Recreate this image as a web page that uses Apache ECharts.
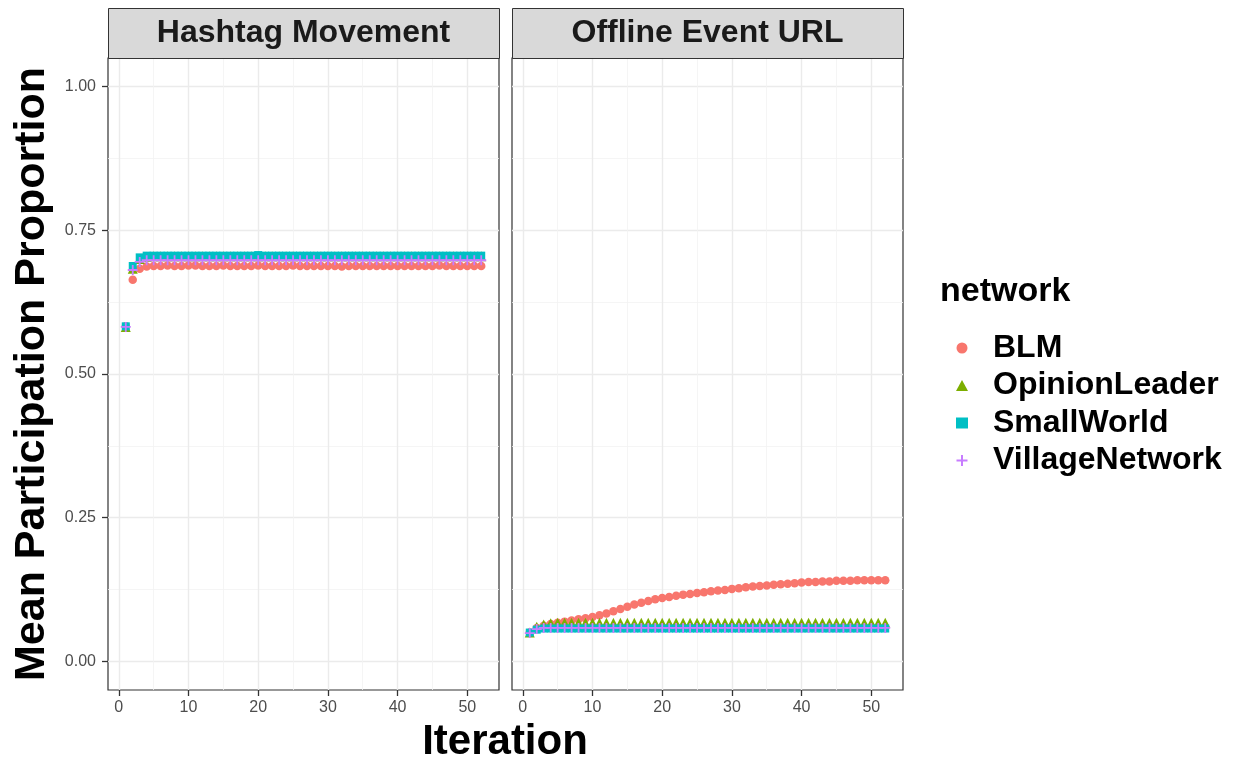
<!DOCTYPE html>
<html>
<head>
<meta charset="utf-8">
<script src="https://cdn.jsdelivr.net/npm/echarts@6/dist/echarts.min.js"></script>
<style>html,body{margin:0;padding:0;background:#fff;}#chart{width:1239px;height:761px;}</style>
</head>
<body>
<div id="chart"></div>
<script>
const iterations = [1,2,3,4,5,6,7,8,9,10,11,12,13,14,15,16,17,18,19,20,21,22,23,24,25,26,27,28,29,30,31,32,33,34,35,36,37,38,39,40,41,42,43,44,45,46,47,48,49,50,51,52];
const networks = ['BLM','OpinionLeader','SmallWorld','VillageNetwork'];
const panels = ['Hashtag Movement','Offline Event URL'];
const xTicks = [0,10,20,30,40,50];
const xMinor = [5,15,25,35,45];
const yTicks = [0,0.25,0.5,0.75,1];
const yMinor = [0.125,0.375,0.625,0.875];

// Hashtag Movement
const hashBLM = [0.583,0.664,0.683,0.687,0.688,0.688,0.689,0.688,0.688,0.689,0.689,0.688,0.688,0.688,0.689,0.688,0.688,0.688,0.688,0.689,0.688,0.688,0.688,0.688,0.689,0.688,0.688,0.688,0.688,0.688,0.688,0.687,0.688,0.688,0.688,0.688,0.688,0.688,0.688,0.688,0.688,0.688,0.688,0.688,0.688,0.689,0.688,0.688,0.688,0.688,0.688,0.688];
const hashOL  = [0.582,0.683,0.700,0.704,0.705,0.705,0.705,0.705,0.705,0.705,0.705,0.705,0.705,0.705,0.705,0.705,0.705,0.705,0.705,0.705,0.705,0.705,0.705,0.705,0.705,0.705,0.705,0.705,0.705,0.705,0.705,0.705,0.705,0.705,0.705,0.705,0.705,0.705,0.705,0.705,0.705,0.705,0.705,0.705,0.705,0.705,0.705,0.705,0.705,0.705,0.705,0.705];
const hashSW  = [0.583,0.688,0.703,0.706,0.706,0.706,0.706,0.706,0.706,0.706,0.706,0.706,0.706,0.706,0.706,0.706,0.706,0.706,0.706,0.707,0.706,0.706,0.706,0.706,0.706,0.706,0.706,0.706,0.706,0.706,0.706,0.706,0.706,0.706,0.706,0.706,0.706,0.706,0.706,0.706,0.706,0.706,0.706,0.706,0.706,0.706,0.706,0.706,0.706,0.706,0.706,0.706];
const hashVN  = [0.582,0.681,0.695,0.698,0.698,0.698,0.698,0.698,0.698,0.698,0.698,0.698,0.698,0.698,0.698,0.698,0.698,0.698,0.698,0.698,0.698,0.698,0.698,0.698,0.698,0.698,0.698,0.698,0.698,0.698,0.698,0.698,0.698,0.698,0.698,0.698,0.698,0.698,0.698,0.698,0.698,0.698,0.698,0.698,0.698,0.698,0.698,0.698,0.698,0.698,0.698,0.698];

// Offline Event URL
const offBLM = [0.050,0.058,0.062,0.065,0.067,0.069,0.071,0.073,0.075,0.077,0.080,0.083,0.087,0.091,0.095,0.099,0.102,0.105,0.108,0.110,0.112,0.114,0.116,0.117,0.119,0.120,0.122,0.123,0.124,0.126,0.127,0.129,0.130,0.131,0.132,0.133,0.134,0.135,0.136,0.137,0.138,0.138,0.139,0.139,0.140,0.140,0.140,0.141,0.141,0.141,0.141,0.141];
const offOL  = [0.050,0.060,0.064,0.066,0.067,0.067,0.067,0.067,0.067,0.067,0.067,0.067,0.067,0.067,0.067,0.067,0.067,0.067,0.067,0.067,0.067,0.067,0.067,0.067,0.067,0.067,0.067,0.067,0.067,0.067,0.067,0.067,0.067,0.067,0.067,0.067,0.067,0.067,0.067,0.067,0.067,0.067,0.067,0.067,0.067,0.067,0.067,0.067,0.067,0.067,0.067,0.067];
const offSW  = [0.050,0.055,0.057,0.057,0.057,0.057,0.057,0.057,0.057,0.057,0.057,0.057,0.057,0.057,0.057,0.057,0.057,0.057,0.057,0.057,0.057,0.057,0.057,0.057,0.057,0.057,0.057,0.057,0.057,0.057,0.057,0.057,0.057,0.057,0.057,0.057,0.057,0.057,0.057,0.057,0.057,0.057,0.057,0.057,0.057,0.057,0.057,0.057,0.057,0.057,0.057,0.057];
const offVN  = [0.049,0.056,0.058,0.058,0.058,0.058,0.058,0.058,0.058,0.058,0.058,0.058,0.058,0.058,0.058,0.058,0.058,0.058,0.058,0.058,0.058,0.058,0.058,0.058,0.058,0.058,0.058,0.058,0.058,0.058,0.058,0.058,0.058,0.058,0.058,0.058,0.058,0.058,0.058,0.058,0.058,0.058,0.058,0.058,0.058,0.058,0.058,0.058,0.058,0.058,0.058,0.058];

const colors = ['#F8766D','#7CAE00','#00BFC4','#C77CFF'];
const plusPath = 'path://M4.1,0H5.9V4.1H10V5.9H5.9V10H4.1V5.9H0V4.1H4.1Z';
const symbols = ['circle','triangle','rect', plusPath];
const sizes = [8.5,10,8,10];
const panelData = [[hashBLM,hashOL,hashSW,hashVN],[offBLM,offOL,offSW,offVN]];

const FONT = '"Liberation Sans", Arial, Helvetica, sans-serif';
const grids = [
  {left:108, top:58, width:391, height:632},
  {left:512, top:58, width:391, height:632}
];
const X_MIN = -1.55, X_MAX = 54.55, Y_MIN = -0.05, Y_MAX = 1.05;

const xAxes = [], yAxes = [];
for (let g = 0; g < 2; g++) {
  xAxes.push({
    type:'value', gridIndex:g, min:X_MIN, max:X_MAX, position:'bottom',
    axisLine:{show:false, onZero:false},
    axisTick:{show:true, length:6, lineStyle:{color:'#333333', width:1.3}, customValues:xTicks},
    axisLabel:{show:true, color:'#4D4D4D', fontSize:16, fontFamily:FONT, margin:10, customValues:xTicks},
    splitLine:{show:true, lineStyle:{color:'#EBEBEB', width:1.4}}
  });
  yAxes.push({
    type:'value', gridIndex:g, min:Y_MIN, max:Y_MAX, position:'left',
    axisLine:{show:false, onZero:false},
    axisTick:{show:g===0, length:6, lineStyle:{color:'#333333', width:1.3}, customValues:yTicks},
    axisLabel:{show:g===0, color:'#4D4D4D', fontSize:16, fontFamily:FONT, margin:12, customValues:yTicks,
      formatter:v => v.toFixed(2)},
    splitLine:{show:true, lineStyle:{color:'#EBEBEB', width:1.4}}
  });
}
for (let g = 0; g < 2; g++) {
  xAxes.push({
    type:'value', gridIndex:g, min:X_MIN, max:X_MAX,
    axisLine:{show:false, onZero:false}, axisLabel:{show:false},
    axisTick:{show:false, customValues:xMinor},
    splitLine:{show:true, lineStyle:{color:'#F2F2F2', width:0.8}}
  });
  yAxes.push({
    type:'value', gridIndex:g, min:Y_MIN, max:Y_MAX,
    axisLine:{show:false, onZero:false}, axisLabel:{show:false},
    axisTick:{show:false, customValues:yMinor},
    splitLine:{show:true, lineStyle:{color:'#F2F2F2', width:0.8}}
  });
}

const series = [];
for (let g = 0; g < 2; g++) {
  for (let s = 0; s < 4; s++) {
    series.push({
      name: networks[s], type:'scatter', xAxisIndex:g, yAxisIndex:g,
      symbol: symbols[s], symbolSize: sizes[s],
      itemStyle:{color:colors[s], opacity:1},
      z: 3 + s,
      silent:true,
      data: iterations.map((it,i) => [it, panelData[g][s][i]])
    });
  }
}

const graphics = [];
for (let g = 0; g < 2; g++) {
  graphics.push({
    type:'rect', left:grids[g].left, top:8,
    shape:{width:grids[g].width, height:50},
    style:{fill:'#D9D9D9', stroke:'#333333', lineWidth:1}, z:10
  });
  graphics.push({
    type:'text', x:grids[g].left + grids[g].width/2, y:33,
    style:{text:panels[g], fill:'#1A1A1A', font:'bold 32px ' + FONT, align:'center', verticalAlign:'middle'}, z:11
  });
}
graphics.push({
  type:'text', x:505, y:742,
  style:{text:'Iteration', fill:'#000', font:'bold 42px ' + FONT, align:'center', verticalAlign:'middle'}, z:11
});
graphics.push({
  type:'text', x:32, y:374, rotation:Math.PI/2,
  style:{text:'Mean Participation Proportion', fill:'#000', font:'bold 43px ' + FONT, align:'center', verticalAlign:'middle'}, z:11
});
graphics.push({
  type:'text', x:940, y:292,
  style:{text:'network', fill:'#000', font:'bold 34px ' + FONT, align:'left', verticalAlign:'middle'}, z:11
});

const chart = echarts.init(document.getElementById('chart'), null, {renderer:'canvas'});
chart.setOption({
  backgroundColor:'#ffffff',
  animation:false,
  grid: grids.map(g => Object.assign({show:true, backgroundColor:'#ffffff', borderColor:'#333333', borderWidth:1.2}, g)),
  xAxis: xAxes,
  yAxis: yAxes,
  legend:{
    data: networks, orient:'vertical', left:951, top:327,
    itemWidth:12, itemHeight:11, itemGap:5.5, selectedMode:false, symbolKeepAspect:true,
    textStyle:{fontSize:32, fontWeight:'bold', color:'#000', fontFamily:FONT, lineHeight:32, padding:[0,0,0,20]}
  },
  graphic: graphics,
  series: series
});
</script>
</body>
</html>
